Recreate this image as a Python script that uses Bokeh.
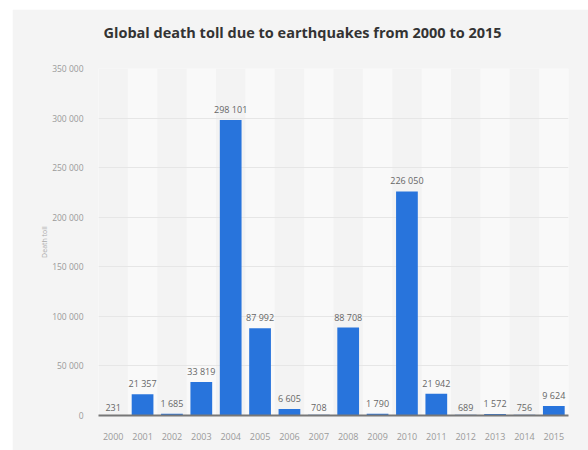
from bokeh.plotting import figure
from bokeh.models import Range1d, FactorRange, ColumnDataSource, Title, Spacer
from bokeh.layouts import column, row
from bokeh.embed import file_html
from bokeh.resources import INLINE
from bokeh.core.properties import value

years = ["2000", "2001", "2002", "2003", "2004", "2005", "2006", "2007",
         "2008", "2009", "2010", "2011", "2012", "2013", "2014", "2015"]
deaths = [231, 21357, 1685, 33819, 298101, 87992, 6605, 708,
          88708, 1790, 226050, 21942, 689, 1572, 756, 9624]
y_ticks = [0, 50000, 100000, 150000, 200000, 250000, 300000, 350000]
y_max = 350000
title_text = "Global death toll due to earthquakes from 2000 to 2015"
y_label = "Death toll"


def fmt(v):
    return f"{v:,}".replace(",", " ")


labels = [fmt(v) for v in deaths]
src = ColumnDataSource(dict(year=years, deaths=deaths, label=labels))
band_src = ColumnDataSource(dict(year=years[1::2], top=[y_max] * len(years[1::2])))

FONT = "Open Sans"

p = figure(width=576, height=441, x_range=FactorRange(*years, range_padding=0),
           y_range=Range1d(0, y_max), output_backend="svg", toolbar_location=None,
           min_border_left=86, min_border_right=20, min_border_top=59, min_border_bottom=35)
p.border_fill_color = "#f4f4f4"
p.background_fill_color = "#f3f3f3"
p.outline_line_color = None

p.title = Title(text=title_text, align="left", offset=5, text_font=FONT,
                text_font_size="14.5px", text_font_style="bold",
                text_color="#333333", standoff=0)
# spacer panel between frame and title (closest to the frame)
p.add_layout(Title(text=" ", text_font_size="1px", standoff=24), "above")

# alternating column bands
p.vbar(x="year", top="top", bottom=0, width=1.0, source=band_src,
       fill_color="#f9f9f9", line_color=None, level="underlay")

p.vbar(x="year", top="deaths", bottom=0, width=0.74, source=src,
       fill_color="#2874dc", line_color=None)

p.text(x="year", y="deaths", text="label", source=src, text_align="center",
       text_baseline="bottom", y_offset=-4, text_font=value(FONT),
       text_font_size="9px", text_color="#666666")

p.xgrid.grid_line_color = None
p.ygrid.grid_line_color = "#e6e6e6"
p.ygrid.grid_line_width = 1
p.ygrid.ticker = y_ticks

p.yaxis.ticker = y_ticks
p.yaxis.major_label_overrides = {t: fmt(t) for t in y_ticks}
p.yaxis.axis_line_color = None
p.yaxis.major_tick_line_color = None
p.yaxis.minor_tick_line_color = None
p.yaxis.major_label_text_font = FONT
p.yaxis.major_label_text_font_size = "8.5px"
p.yaxis.major_label_text_color = "#9a9a9a"
p.yaxis.major_label_standoff = 9
p.yaxis.axis_label = y_label
p.yaxis.axis_label_text_font = FONT
p.yaxis.axis_label_text_font_size = "7px"
p.yaxis.axis_label_text_font_style = "normal"
p.yaxis.axis_label_text_color = "#aaaaaa"
p.yaxis.axis_label_standoff = 0

p.xaxis.axis_line_color = "#777777"
p.xaxis.axis_line_width = 2
p.xaxis.major_tick_line_color = None
p.xaxis.minor_tick_line_color = None
p.xaxis.major_label_text_font = FONT
p.xaxis.major_label_text_font_size = "9px"
p.xaxis.major_label_text_color = "#9a9a9a"
p.xaxis.major_label_standoff = 11

layout = column(Spacer(height=9, width=588),
                row(Spacer(width=12, height=441), p))

open("out.html", "w").write(file_html(layout, INLINE))
